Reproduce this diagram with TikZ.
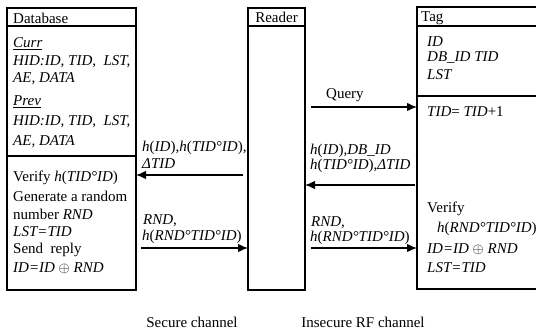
\documentclass[tikz,border=0pt]{standalone}
\usepackage{fontspec}
\setmainfont{Liberation Serif}
\usetikzlibrary{arrows.meta}
\begin{document}
\begin{tikzpicture}[x=1pt,y=-1pt,
  font=\fontsize{15}{18}\selectfont,
  box/.style={draw, line width=1.1pt, inner sep=0pt, outer sep=0pt},
  txt/.style={anchor=west, inner sep=0pt},
  ctxt/.style={inner sep=0pt},
  arr/.style={line width=1.1pt, -{Latex[length=10pt,width=8.5pt]}}]
\useasboundingbox (0,0) rectangle (536,334);
% boxes
\node[box, minimum width=129pt, minimum height=282pt] (db) at (71.5,149) {};
\node[box, minimum width=57pt, minimum height=282pt] (reader) at (276.5,149) {};
\node[box, minimum width=130pt, minimum height=282pt] (tag) at (482,148) {};
% header and divider lines
\draw[line width=1.1pt] ([yshift=-18pt]db.north west) -- ([yshift=-18pt]db.north east);
\draw[line width=1.1pt] ([yshift=-148pt]db.north west) -- ([yshift=-148pt]db.north east);
\draw[line width=1.1pt] ([yshift=-18pt]reader.north west) -- ([yshift=-18pt]reader.north east);
\draw[line width=1.1pt] ([yshift=-19pt]tag.north west) -- ([yshift=-19pt]tag.north east);
\draw[line width=1.1pt] ([yshift=-89pt]tag.north west) -- ([yshift=-89pt]tag.north east);
% database text
\node[txt] (dbh) at (13,18) {Database};
\node[txt] (c1) at (13,44) {\underline{\textit{Curr}}};
\node[txt] (c2) at (13,62) {\textit{HID:ID, TID,\ \ LST,}};
\node[txt] (c3) at (13,79) {\textit{AE, DATA}};
\node[txt] (p1) at (13,102) {\underline{\textit{Prev}}};
\node[txt] (p2) at (13,122) {\textit{HID:ID, TID,\ \ LST,}};
\node[txt] (p3) at (13,142) {\textit{AE, DATA}};
\node[txt] (d1) at (13,178) {Verify \textit{h}(\textit{TID°ID})};
\node[txt] (d2) at (13,196) {Generate a random};
\node[txt] (d3) at (13,214) {number \textit{RND}};
\node[txt] (d4) at (13,232) {\textit{LST=TID}};
\node[txt] (d5) at (13,250) {Send\ \ reply};
\node[txt] (d6) at (13,268) {\textit{ID=ID} $\oplus$ \textit{RND}};
% reader text
\node[ctxt] (rh) at (276.5,17) {Reader};
% tag text
\node[txt] (th) at (421,18) {Tag};
\node[txt] (t1) at (427,42) {\textit{ID}};
\node[txt] (t2) at (427,58) {\textit{DB\_ID TID}};
\node[txt] (t3) at (427,75) {\textit{LST}};
\node[txt] (t4) at (427,112) {\textit{TID}= \textit{TID}+1};
\node[txt] (t5) at (427,209) {Verify};
\node[txt] (t6) at (437,229) {\textit{h}(\textit{RND°TID°ID})};
\node[txt] (t7) at (427,249) {\textit{ID=ID} $\oplus$ \textit{RND}};
\node[txt] (t8) at (427,268) {\textit{LST=TID}};
% arrows
\draw[arr, shorten <=5pt] (reader.west |- 0,175) -- (db.east |- 0,175);
\draw[arr, shorten <=5pt] (db.east |- 0,248) -- (reader.west |- 0,248);
\draw[arr, shorten <=6pt] (reader.east |- 0,107) -- (tag.west |- 0,107);
\draw[arr, shorten <=2pt] (tag.west |- 0,185) -- (reader.east |- 0,185);
\draw[arr, shorten <=6pt] (reader.east |- 0,248) -- (tag.west |- 0,248);
% arrow labels
\node[txt] (l1) at (142,148) {\textit{h}(\textit{ID}),\textit{h}(\textit{TID°ID}),};
\node[txt] (l2) at (142,164) {\textit{ΔTID}};
\node[txt] (l3) at (143,221) {\textit{RND},};
\node[txt] (l4) at (142,237) {\textit{h}(\textit{RND°TID°ID})};
\node[txt] (l5) at (326,95) {Query};
\node[txt] (l6) at (310,151) {\textit{h}(\textit{ID}),\textit{DB\_ID}};
\node[txt] (l7) at (310,166) {\textit{h}(\textit{TID°ID}),\textit{ΔTID}};
\node[txt] (l8) at (311,223) {\textit{RND},};
\node[txt] (l9) at (310,238) {\textit{h}(\textit{RND°TID°ID})};
% channel labels
\node[ctxt] (s1) at (192,322) {Secure channel};
\node[ctxt] (s2) at (363,322) {Insecure RF channel};
\end{tikzpicture}
\end{document}
